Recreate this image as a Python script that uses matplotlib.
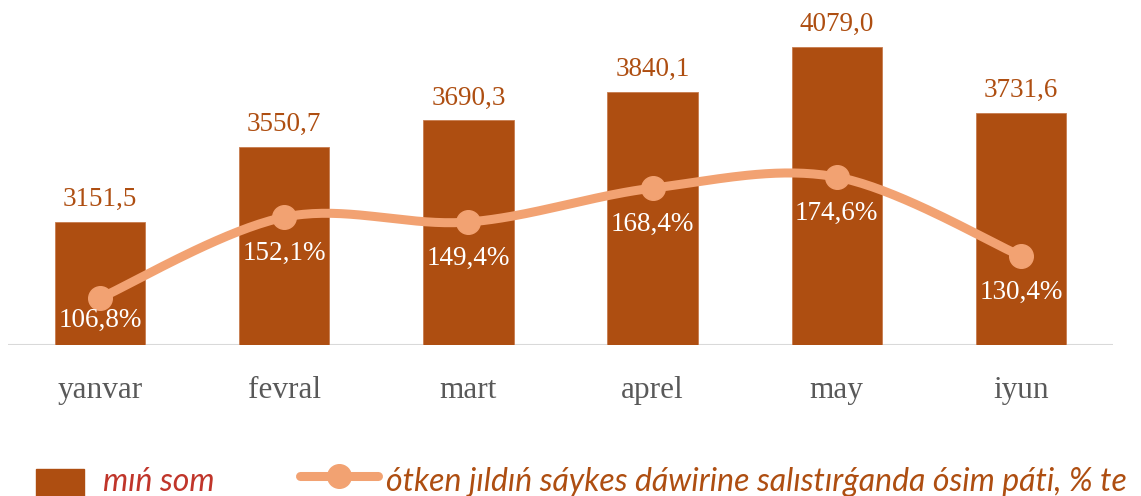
import numpy as np
import matplotlib
matplotlib.use("Agg")
import matplotlib.pyplot as plt

months = ["yanvar", "fevral", "mart", "aprel", "may", "iyun"]
volume = [3151.5, 3550.7, 3690.3, 3840.1, 4079.0, 3731.6]
growth = [106.8, 152.1, 149.4, 168.4, 174.6, 130.4]
volume_labels = ["3151,5", "3550,7", "3690,3", "3840,1", "4079,0", "3731,6"]
growth_labels = ["106,8%", "152,1%", "149,4%", "168,4%", "174,6%", "130,4%"]

BAR_COLOR = "#AE4E11"
LINE_COLOR = "#F2A272"
SERIF = "Liberation Serif"

W, H = 1141, 496
fig = plt.figure(figsize=(W / 100, H / 100), dpi=100)
ax = fig.add_axes([8 / W, 1 - 345 / H, 1105 / W, 340 / H])
ax2 = ax.twinx()

x = np.arange(len(months))
ax.bar(x, volume, width=0.49, color=BAR_COLOR, edgecolor="#C77B4E", linewidth=0.6, zorder=2)
ax.set_xlim(-0.5, len(months) - 0.5)
ax.set_ylim(2500, 4302)

for xi, v, lab in zip(x, volume, volume_labels):
    ax.annotate(lab, (xi, v), xytext=(0, 10), textcoords="offset pixels",
                ha="center", va="bottom", fontsize=19.5, family=SERIF, color=BAR_COLOR)

# smoothed line (Catmull-Rom, like Excel's smooth line)
pts = np.column_stack([x, growth]).astype(float)
ext = np.vstack([pts[0], pts, pts[-1]])
curve = []
t = np.linspace(0, 1, 40)
for i in range(len(pts) - 1):
    p0, p1, p2, p3 = ext[i], ext[i + 1], ext[i + 2], ext[i + 3]
    c1 = p1 + (p2 - p0) / 6
    c2 = p2 - (p3 - p1) / 6
    seg = ((1 - t) ** 3)[:, None] * p1 + (3 * (1 - t) ** 2 * t)[:, None] * c1 \
        + (3 * (1 - t) * t ** 2)[:, None] * c2 + (t ** 3)[:, None] * p2
    curve.append(seg)
curve = np.vstack(curve)
ax2.plot(curve[:, 0], curve[:, 1], color=LINE_COLOR, lw=6.5, solid_capstyle="round", zorder=3)
ax2.plot(x, growth, "o", color=LINE_COLOR, markersize=17, zorder=4)
ax2.set_ylim(80.5, 271)

# growth labels below markers, kept inside plot area
fig.canvas.draw()
bottom_px = ax.transAxes.transform((0, 0))[1]
for xi, g, lab in zip(x, growth, growth_labels):
    mx, my = ax2.transData.transform((xi, g))
    ly = max(my - 36, bottom_px + 25)
    fig.text(mx / W, ly / H, lab, ha="center", va="center", fontsize=19.5,
             family=SERIF, color="white", zorder=5)

for a in (ax, ax2):
    a.set_yticks([])
    for s in ["top", "right", "left", "bottom"]:
        a.spines[s].set_visible(False)
ax.axhline(2500, color="#D9D9D9", lw=1.5, zorder=1)
ax.set_xticks(x)
ax.set_xticklabels(months, fontsize=22.5, family=SERIF, color="#595959")
ax.tick_params(axis="x", length=0, pad=22)

# legend drawn by hand (it runs off the right edge in the original)
fig.patches.append(plt.Rectangle((36 / W, 0), 48 / W, 27 / H, transform=fig.transFigure,
                                 color=BAR_COLOR))
fig.text(103 / W, 14 / H, "mıń som", fontsize=23, family="Lato", style="italic",
         color="#C0352A", va="center")
fig.add_artist(plt.Line2D([300 / W, 378 / W], [20 / H, 20 / H], transform=fig.transFigure,
                          color=LINE_COLOR, lw=6.5, solid_capstyle="round"))
fig.add_artist(plt.Line2D([339 / W], [20 / H], transform=fig.transFigure, marker="o",
                          markersize=17, color=LINE_COLOR))
fig.text(386 / W, 14 / H, "ótken jıldıń sáykes dáwirine salıstırǵanda ósim páti, % te",
         fontsize=23, family="Lato", style="italic", color=BAR_COLOR, va="center")

fig.savefig("out.png", dpi=100)
